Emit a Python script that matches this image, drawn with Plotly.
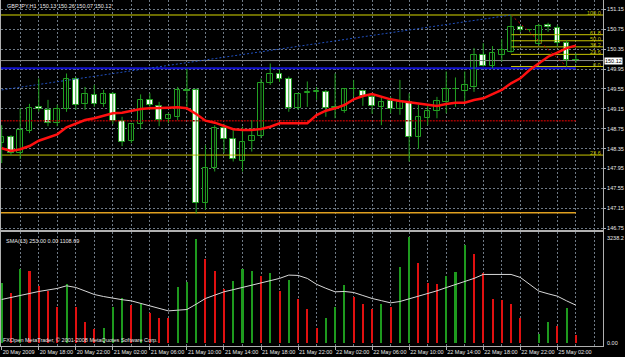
import plotly.graph_objects as go

# ---------------- data ----------------
time_labels = ["20 May 2009", "20 May 18:00", "20 May 22:00", "21 May 02:00", "21 May 06:00",
               "21 May 10:00", "21 May 14:00", "21 May 18:00", "21 May 22:00", "22 May 02:00",
               "22 May 06:00", "22 May 10:00", "22 May 14:00", "22 May 18:00", "22 May 22:00",
               "25 May 02:00"]
label_idx = [0, 4, 8, 12, 16, 20, 24, 28, 32, 36, 40, 44, 48, 52, 56, 60]

opens = [148.46, 148.58, 148.26, 148.71, 149.18, 149.13, 148.86, 149.14, 149.74, 149.24,
         149.42, 149.24, 149.44, 148.91, 148.51, 148.84, 149.33, 149.21, 148.94, 148.99,
         149.53, 149.53, 147.25, 147.97, 148.76, 148.54, 148.11, 148.50, 148.61, 149.67,
         149.84, 149.74, 149.16, 149.47, 149.49, 149.48, 149.16, 149.11, 149.55, 149.51,
         149.38, 149.19, 149.31, 149.15, 149.28, 148.58, 148.97, 149.11, 149.29, 149.54,
         149.51, 149.59, 150.23, 150.02, 150.24, 150.30, 150.79, 150.73, 150.45, 150.84,
         150.77, 150.48, 150.13]
highs = [148.82, 148.62, 149.16, 149.25, 149.76, 149.33, 149.23, 149.86, 149.79, 149.59,
         149.63, 149.53, 149.49, 148.99, 148.86, 149.44, 149.46, 149.29, 149.06, 149.59,
         149.96, 149.56, 148.42, 148.82, 148.85, 148.72, 148.79, 148.92, 149.76, 150.06,
         149.94, 149.80, 149.46, 149.70, 149.59, 149.53, 149.86, 149.56, 149.73, 149.53,
         149.46, 149.39, 149.39, 149.73, 149.46, 149.23, 149.23, 149.39, 149.90, 149.78,
         149.90, 150.37, 150.47, 150.41, 150.55, 151.035, 150.82, 150.75, 150.86, 150.88,
         150.83, 150.53, 150.26]
lows = [148.06, 148.22, 148.14, 148.66, 149.09, 148.80, 148.80, 149.09, 149.13, 149.13,
        149.19, 149.19, 148.84, 148.40, 148.46, 148.74, 149.19, 148.80, 148.86, 148.92,
        149.19, 147.04, 147.12, 147.89, 148.26, 148.09, 147.89, 148.29, 148.56, 149.63,
        149.69, 149.09, 149.13, 149.19, 149.33, 148.99, 148.96, 149.07, 149.39, 149.21,
        149.05, 148.82, 149.06, 149.03, 148.09, 148.34, 148.82, 148.96, 149.06, 149.19,
        149.28, 149.49, 150.00, 149.97, 150.10, 150.28, 150.70, 150.70, 150.42, 150.70,
        150.40, 150.00, 150.07]
closes = [148.58, 148.27, 148.72, 149.16, 149.14, 148.87, 149.14, 149.74, 149.23, 149.44,
          149.24, 149.45, 148.91, 148.49, 148.84, 149.33, 149.23, 148.92, 149.03, 149.53,
          149.51, 147.25, 147.97, 148.76, 148.54, 148.14, 148.48, 148.61, 149.67, 149.84,
          149.74, 149.16, 149.44, 149.49, 149.50, 149.16, 149.18, 149.55, 149.54, 149.41,
          149.21, 149.29, 149.14, 149.28, 148.59, 148.98, 149.11, 149.31, 149.54, 149.55,
          149.63, 150.23, 150.02, 150.27, 150.33, 150.80, 150.73, 150.73, 150.81, 150.79,
          150.47, 150.13, 150.12]
ma_line = [148.356, 148.302, 148.336, 148.402, 148.509, 148.577, 148.637, 148.778, 148.859, 148.925,
           148.959, 149.005, 149.060, 149.072, 149.106, 149.146, 149.160, 149.160, 149.172, 149.180,
           149.160, 149.046, 148.911, 148.871, 148.804, 148.738, 148.724, 148.724, 148.744, 148.790,
           148.859, 148.859, 148.859, 148.859, 149.025, 149.112, 149.160, 149.226, 149.340, 149.407,
           149.447, 149.393, 149.340, 149.307, 149.280, 149.260, 149.226, 149.206, 149.246, 149.273,
           149.273, 149.327, 149.361, 149.441, 149.528, 149.662, 149.763, 149.930, 150.065, 150.197,
           150.278, 150.370, 150.420]

vol_up = [1741, 0, 2158, 0, 0, 0, 0, 1712, 0, 0,
          0, 437, 1059, 1303, 0, 1138, 0, 0, 0, 1643,
          1789, 3034, 0, 0, 0, 1818, 2158, 2110, 0, 2032,
          0, 1838, 0, 0, 0, 749, 1059, 1692, 0, 0,
          0, 1157, 0, 2226, 3083, 0, 0, 0, 1954, 2071,
          2849, 0, 0, 0, 0, 0, 0, 0, 262, 622,
          0, 1030, 0]
vol_dn = [0, 1468, 0, 2091, 1672, 1526, 1059, 0, 1041, 622,
          408, 0, 0, 0, 1108, 0, 885, 729, 729, 0,
          0, 0, 2460, 2110, 1575, 0, 0, 0, 1954, 0,
          1507, 0, 1274, 985, 430, 0, 0, 0, 1351, 1138,
          983, 0, 1059, 0, 0, 2343, 1760, 1721, 0, 0,
          0, 2605, 2032, 1283, 1245, 1147, 739, 0, 0, 0,
          505, 0, 253]
vol_sma = [1274, 1337, 1400, 1453, 1507, 1551, 1595, 1672, 1624, 1522,
           1420, 1360, 1303, 1268, 1234, 1156, 1079, 1010, 942, 962,
           982, 1138, 1303, 1400, 1497, 1560, 1624, 1692, 1760, 1823,
           1887, 1984, 1974, 1887, 1715, 1600, 1497, 1507, 1478, 1390,
           1303, 1240, 1176, 1215, 1290, 1371, 1450, 1526, 1620, 1711,
           1800, 1887, 2003, 2003, 2003, 2003, 1916, 1720, 1517, 1440,
           1371, 1234, 1108.69]

price_ticks = [151.15, 150.75, 150.35, 149.95, 149.55, 149.15, 148.75, 148.35,
               147.95, 147.55, 147.15, 146.75]

fib_low, fib_high = 150.00, 151.035
fib_levels = [0.0, 23.6, 38.2, 50.0, 61.8, 100.0]
fib_bar_high, fib_bar_low = 55, 61

bid_price = 150.12
hline_blue = 149.964
hline_darkred = 148.911
hline_yellow = 148.22
hline_orange = 147.06
trend_x = [0, 55]
trend_y = [149.53, 151.035]

vol_max_label = 3238.2
title_text = "GBPJPY,H1  150.13 150.26 150.07 150.12"
ind_text = "SMA(13) 253.00 0.00 1108.69"
footer_text = "FXOpen MetaTrader, \u00a9 2001-2008 MetaQuotes Software Corp."

# ---------------- styling ----------------
FONT = "Liberation Sans, Arial, sans-serif"
GREEN = "#22a022"
GRID = "#6f7a86"
FRAME = "#b0b0b0"
TXT = "#e8e8e8"
FIBC = "#c8c400"
FS = 5.5

n = len(opens)
xs = list(range(n))
x_lo, x_hi = -0.076, 64.93

fig = go.Figure()

def hline(y, x0, x1, color, width=1, dash="solid"):
    fig.add_trace(go.Scatter(x=[x0, x1], y=[y, y], mode="lines",
                             line=dict(color=color, width=width, dash=dash),
                             hoverinfo="skip", showlegend=False, xaxis="x", yaxis="y"))

hline(hline_darkred, x_lo - 1, n - 1, "#a00000", 1.5, "2px,1px")
hline(hline_orange, x_lo - 1, n - 1, "#e0a020", 1.5)
hline(hline_yellow, x_lo - 1, x_hi + 1, FIBC, 1)
hline(bid_price, x_lo - 1, x_hi + 1, "#8c8c8c", 1)
hline(hline_blue, x_lo - 1, n - 1, "#1010d0", 2)
hline(fib_high, x_lo - 1, x_hi + 1, "#909000", 1.5)

# blue dotted trend line
fig.add_trace(go.Scatter(x=trend_x, y=trend_y, mode="lines",
                         line=dict(color="#2050c0", width=1, dash="2px,2px"),
                         hoverinfo="skip", showlegend=False))

# fibonacci levels
for lv in fib_levels[:-1]:
    p = fib_low + (fib_high - fib_low) * lv / 100.0
    hline(p, fib_bar_high, x_hi + 1, FIBC, 1)
fig.add_trace(go.Scatter(x=[fib_bar_high, fib_bar_low], y=[fib_high, fib_low], mode="lines",
                         line=dict(color="#d00000", width=1, dash="2px,3px"),
                         hoverinfo="skip", showlegend=False))

# wicks
wx, wy = [], []
for i in xs:
    wx += [i, i, None]
    wy += [lows[i], highs[i], None]
fig.add_trace(go.Scatter(x=wx, y=wy, mode="lines", line=dict(color=GREEN, width=1),
                         hoverinfo="skip", showlegend=False))

# bodies
base = [min(o, c) for o, c in zip(opens, closes)]
hgt = [max(abs(c - o), 0.006) for o, c in zip(opens, closes)]
fill = ["#000000" if c >= o else "#ffffff" for o, c in zip(opens, closes)]
fig.add_trace(go.Bar(x=xs, y=hgt, base=base, width=0.6,
                     marker=dict(color=fill, line=dict(color=GREEN, width=1)),
                     hoverinfo="skip", showlegend=False, xaxis="x", yaxis="y"))

# moving average
fig.add_trace(go.Scatter(x=xs, y=ma_line, mode="lines", line=dict(color="#ff1010", width=2.5),
                         hoverinfo="skip", showlegend=False))

# lower indicator panel
fig.add_trace(go.Bar(x=xs, y=vol_up, width=0.22, marker=dict(color="#1e9a1e", line=dict(width=0)),
                     hoverinfo="skip", showlegend=False, xaxis="x2", yaxis="y2"))
fig.add_trace(go.Bar(x=xs, y=vol_dn, width=0.22, marker=dict(color="#e01010", line=dict(width=0)),
                     hoverinfo="skip", showlegend=False, xaxis="x2", yaxis="y2"))
fig.add_trace(go.Scatter(x=xs, y=vol_sma, mode="lines", line=dict(color="#d8d8d8", width=1),
                         hoverinfo="skip", showlegend=False, xaxis="x2", yaxis="y2"))

annotations = [
    dict(xref="paper", yref="paper", x=0.006, y=1.0, xanchor="left", yanchor="top", yshift=-1,
         text=title_text, showarrow=False, font=dict(family=FONT, size=FS, color=TXT)),
    dict(xref="paper", yref="paper", x=0.005, y=0.3295, xanchor="left", yanchor="top", yshift=-4,
         text=ind_text, showarrow=False, font=dict(family=FONT, size=FS, color=TXT)),
    dict(xref="paper", yref="paper", x=0.0, y=0.0, xanchor="left", yanchor="bottom", yshift=1,
         text=footer_text, showarrow=False, font=dict(family=FONT, size=FS, color=TXT)),
    dict(xref="paper", yref="y", x=1.0, y=bid_price, xanchor="left", yanchor="middle", xshift=1,
         text=f"{bid_price:.2f}", showarrow=False, bgcolor="#ffffff", borderpad=0,
         font=dict(family=FONT, size=FS, color="#000000")),
    dict(xref="paper", yref="y2", x=1.0, y=vol_max_label, xanchor="left", yanchor="top", xshift=2,
         yshift=-1, text=f"{vol_max_label:.1f}", showarrow=False, font=dict(family=FONT, size=FS, color=TXT)),
    dict(xref="paper", yref="y2", x=1.0, y=0, xanchor="left", yanchor="middle", xshift=2,
         text="0.00", showarrow=False, font=dict(family=FONT, size=FS, color=TXT)),
    dict(xref="x", yref="y", x=64.8, y=hline_yellow, xanchor="right", yanchor="bottom",
         yshift=-2, borderpad=0,
         text="23.6", showarrow=False, font=dict(family=FONT, size=FS, color=FIBC)),
]
for lv in fib_levels:
    p = fib_low + (fib_high - fib_low) * lv / 100.0
    annotations.append(dict(xref="x", yref="y", x=64.8, y=p, xanchor="right", yanchor="bottom",
                            yshift=-2, borderpad=0,
                            text=f"{lv:.1f}", showarrow=False, font=dict(family=FONT, size=FS, color=FIBC)))

fig.update_layout(
    width=625, height=357,
    margin=dict(l=1, r=22, t=0, b=11, pad=0, autoexpand=False),
    paper_bgcolor="#000000", plot_bgcolor="#000000",
    barmode="overlay", bargap=0, showlegend=False,
    font=dict(family=FONT, size=FS, color=TXT),
    annotations=annotations,
    xaxis=dict(domain=[0, 1], range=[x_lo, x_hi], anchor="y", automargin=False,
               tick0=0, dtick=2, tickmode="linear", showticklabels=False, ticks="",
               showgrid=True, gridcolor=GRID, griddash="2px,2px", gridwidth=1,
               showline=True, linecolor=FRAME, linewidth=2, zeroline=False),
    yaxis=dict(domain=[0.33526, 1], range=[146.714, 151.337], anchor="x", side="right",
               automargin=False,
               tickvals=price_ticks, ticktext=[f"{v:.2f}" for v in price_ticks],
               showgrid=True, gridcolor=GRID, griddash="2px,2px", gridwidth=1,
               ticks="outside", ticklen=2, tickcolor=FRAME,
               showline=True, linecolor=FRAME, linewidth=1, mirror=True, zeroline=False,
               tickfont=dict(family=FONT, size=FS, color=TXT)),
    xaxis2=dict(domain=[0, 1], range=[x_lo, x_hi], anchor="y2", automargin=False,
                tickmode="array", tickvals=label_idx, ticktext=time_labels, tickangle=0,
                ticklabelposition="outside right", ticks="outside", ticklen=3, tickcolor=FRAME,
                showgrid=True, gridcolor=GRID, griddash="2px,2px", gridwidth=1,
                minor=dict(tick0=0, dtick=2, showgrid=True, gridcolor=GRID, griddash="2px,2px",
                           gridwidth=1, ticks=""),
                showline=True, linecolor=FRAME, linewidth=1, zeroline=False,
                tickfont=dict(family=FONT, size=FS, color=TXT)),
    yaxis2=dict(domain=[0, 0.32948], range=[-80, vol_max_label], anchor="x2", side="right",
                automargin=False,
                showticklabels=False, ticks="", showgrid=False, zeroline=False,
                showline=True, linecolor=FRAME, linewidth=1, mirror=True),
)

fig.write_html("out.html")
